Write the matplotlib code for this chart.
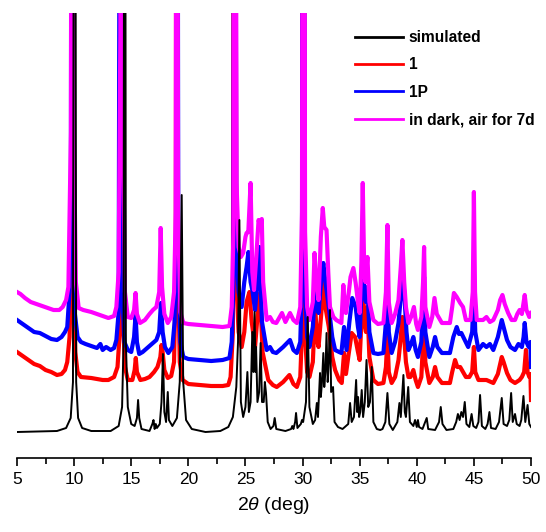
import numpy as np
import matplotlib
matplotlib.use("Agg")
import matplotlib.pyplot as plt
from matplotlib.ticker import MultipleLocator

plt.rcParams['font.family'] = ['Liberation Sans', 'DejaVu Sans']
plt.rcParams['mathtext.fontset'] = 'custom'
plt.rcParams['mathtext.it'] = 'Liberation Sans:italic'
plt.rcParams['mathtext.rm'] = 'Liberation Sans'

# PXRD patterns, 2theta (deg) vs intensity (a.u.)
# peaks that leave the frame are given a large value and get clipped
simulated = [
    (5.0, 0), (8.5, 1), (9.3, 4), (9.7, 14), (9.9, 50), (10.05, 1200), (10.18, 50), (10.35, 14),
    (10.7, 4), (11.5, 1), (13.2, 1), (13.9, 6), (14.2, 25), (14.33, 90), (14.43, 1200),
    (14.53, 90), (14.7, 25), (15.0, 8), (15.3, 6), (15.5, 14), (15.6, 32), (15.7, 14), (15.9, 3),
    (16.6, 1), (16.85, 8), (16.95, 12), (17.05, 3), (17.15, 8), (17.25, 4), (17.5, 8),
    (17.65, 30), (17.78, 78), (17.9, 20), (18.05, 10), (18.2, 40), (18.3, 12), (18.6, 6),
    (19.0, 14), (19.25, 50), (19.42, 237), (19.55, 50), (19.8, 12), (20.3, 3), (21.5, 0),
    (22.8, 1), (23.5, 5), (23.9, 15), (24.2, 45), (24.35, 90), (24.47, 212), (24.6, 30),
    (24.8, 15), (25.0, 25), (25.17, 60), (25.3, 20), (25.45, 30), (25.6, 100), (25.7, 60),
    (25.8, 120), (25.88, 60), (25.93, 85), (26.05, 30), (26.2, 40), (26.33, 89), (26.45, 30),
    (26.6, 30), (26.7, 50), (26.8, 39), (26.95, 10), (27.2, 3), (27.45, 6), (27.56, 14),
    (27.7, 3), (28.5, 1), (29.0, 3), (29.1, 6), (29.2, 3), (29.35, 10), (29.43, 19), (29.55, 4),
    (29.85, 8), (29.95, 12), (30.05, 10), (30.3, 30), (30.45, 115), (30.6, 25), (30.9, 8),
    (31.1, 12), (31.25, 29), (31.35, 15), (31.45, 40), (31.53, 59), (31.6, 35), (31.7, 50),
    (31.82, 79), (31.9, 45), (32.0, 60), (32.1, 99), (32.2, 50), (32.3, 70), (32.4, 122),
    (32.5, 40), (32.67, 45), (32.8, 10), (33.1, 5), (33.5, 3), (34.0, 8), (34.16, 29),
    (34.3, 10), (34.5, 15), (34.69, 52), (34.78, 20), (34.86, 35), (34.95, 15), (35.05, 20),
    (35.18, 42), (35.3, 15), (35.45, 30), (35.6, 72), (35.75, 25), (35.9, 30), (36.06, 65),
    (36.2, 10), (36.5, 3), (36.8, 2), (37.0, 3), (37.25, 10), (37.43, 39), (37.6, 8), (37.9, 2),
    (38.3, 10), (38.48, 29), (38.6, 15), (38.83, 57), (38.95, 20), (39.05, 15), (39.25, 45),
    (39.4, 10), (39.7, 6), (39.85, 12), (40.0, 5), (40.1, 12), (40.2, 5), (40.5, 3),
    (40.87, 14), (41.0, 3), (41.6, 2), (41.95, 10), (42.1, 25), (42.25, 8), (42.6, 2),
    (43.2, 3), (43.45, 10), (43.6, 18), (43.75, 12), (43.9, 20), (44.05, 15), (44.2, 30),
    (44.35, 8), (44.6, 5), (44.8, 18), (44.95, 6), (45.2, 4), (45.4, 10), (45.54, 37),
    (45.7, 6), (46.0, 3), (46.2, 8), (46.36, 20), (46.5, 4), (46.9, 3), (47.2, 10), (47.44, 34),
    (47.6, 8), (47.9, 6), (48.1, 12), (48.26, 39), (48.4, 10), (48.6, 18), (48.75, 8),
    (49.0, 6), (49.15, 12), (49.34, 36), (49.5, 10), (49.7, 27), (49.85, 8), (50.0, 5),
]

sample_1 = [
    (5.0, 80), (5.5, 76), (6.0, 72), (6.5, 68), (7.0, 66), (7.5, 62), (8.0, 60), (8.5, 57),
    (8.9, 58), (9.2, 62), (9.4, 70), (9.6, 95), (9.75, 160), (9.85, 1200), (9.98, 160),
    (10.1, 80), (10.3, 60), (10.6, 55), (11.5, 54), (12.5, 52), (13.0, 52), (13.5, 55),
    (13.8, 65), (14.0, 100), (14.15, 1200), (14.3, 110), (14.45, 65), (14.7, 52), (15.1, 52),
    (15.3, 62), (15.4, 74), (15.5, 60), (15.8, 52), (16.2, 53), (16.6, 55), (17.0, 60),
    (17.3, 65), (17.55, 75), (17.65, 87), (17.75, 80), (17.9, 62), (18.2, 54), (18.5, 56),
    (18.75, 70), (18.9, 160), (18.98, 1200), (19.1, 160), (19.25, 70), (19.5, 52), (20.0, 48),
    (21.0, 47), (22.0, 46), (23.0, 46), (23.5, 47), (23.7, 55), (23.9, 100), (24.05, 1200),
    (24.2, 150), (24.4, 100), (24.67, 85), (24.9, 100), (25.1, 130), (25.35, 140),
    (25.55, 110), (25.84, 85), (26.05, 115), (26.28, 139), (26.5, 80), (27.0, 52), (27.4, 47),
    (27.74, 45), (28.3, 50), (28.85, 57), (29.2, 48), (29.5, 45), (29.8, 55), (29.95, 100),
    (30.05, 1200), (30.2, 100), (30.4, 60), (30.6, 55), (30.9, 70), (31.1, 124), (31.3, 90),
    (31.4, 85), (31.65, 120), (31.82, 149), (32.0, 125), (32.3, 105), (32.6, 75), (32.85, 62),
    (33.2, 52), (33.43, 49), (33.63, 79), (33.8, 58), (34.0, 75), (34.3, 99), (34.6, 95),
    (34.85, 80), (35.0, 72), (35.15, 110), (35.27, 155), (35.4, 110), (35.55, 100),
    (35.68, 125), (35.85, 75), (36.2, 52), (36.6, 48), (37.08, 49), (37.3, 65), (37.43, 95),
    (37.55, 60), (37.8, 49), (38.1, 55), (38.4, 72), (38.6, 95), (38.74, 115), (38.9, 95),
    (39.05, 70), (39.27, 55), (39.45, 55), (39.7, 62), (39.9, 52), (40.1, 45), (40.4, 55),
    (40.55, 90), (40.64, 114), (40.75, 70), (41.1, 49), (41.4, 55), (41.6, 65), (41.8, 55),
    (42.2, 49), (42.9, 49), (43.1, 60), (43.35, 72), (43.55, 65), (43.8, 65), (44.05, 60),
    (44.3, 55), (44.6, 55), (44.85, 60), (45.0, 85), (45.12, 60), (45.4, 52), (46.1, 52),
    (46.7, 49), (47.1, 58), (47.44, 75), (47.6, 70), (47.9, 59), (48.2, 52), (48.6, 49),
    (49.0, 52), (49.2, 55), (49.4, 60), (49.56, 82), (49.7, 60), (49.85, 55), (49.95, 58),
    (50.0, 32),
]

sample_1p = [
    (5.0, 112), (5.5, 108), (6.0, 104), (6.5, 100), (7.0, 99), (7.5, 96), (8.0, 93), (8.5, 92),
    (8.9, 95), (9.2, 100), (9.4, 105), (9.6, 140), (9.72, 250), (9.8, 1200), (9.9, 250),
    (10.05, 120), (10.3, 95), (10.6, 90), (11.0, 88), (11.5, 86), (12.0, 84), (12.3, 88),
    (12.5, 82), (12.8, 85), (13.2, 82), (13.5, 84), (13.7, 92), (13.9, 120), (14.1, 1200),
    (14.25, 130), (14.4, 90), (14.7, 82), (15.0, 80), (15.25, 95), (15.38, 117), (15.5, 90),
    (15.7, 78), (16.0, 80), (16.5, 85), (16.9, 89), (17.2, 92), (17.45, 100), (17.6, 129),
    (17.75, 100), (17.95, 85), (18.25, 79), (18.6, 85), (18.8, 110), (18.92, 200), (19.0, 1200),
    (19.12, 180), (19.3, 90), (19.56, 75), (20.0, 73), (21.0, 72), (22.0, 71), (23.0, 72),
    (23.6, 74), (23.8, 90), (23.95, 150), (24.05, 1200), (24.2, 180), (24.4, 140),
    (24.67, 125), (24.9, 150), (25.1, 165), (25.26, 180), (25.45, 150), (25.6, 142),
    (25.84, 122), (26.05, 150), (26.22, 185), (26.45, 110), (26.86, 82), (27.15, 85),
    (27.4, 80), (27.7, 79), (28.3, 85), (28.9, 92), (29.2, 82), (29.5, 79), (29.8, 90),
    (29.95, 150), (30.05, 1200), (30.2, 150), (30.4, 95), (30.6, 85), (30.9, 105), (31.1, 142),
    (31.3, 125), (31.4, 119), (31.65, 155), (31.82, 169), (32.0, 150), (32.3, 125), (32.6, 95),
    (32.85, 82), (33.2, 80), (33.4, 79), (33.63, 105), (33.85, 82), (34.1, 110), (34.35, 134),
    (34.65, 125), (34.85, 105), (35.0, 95), (35.15, 140), (35.27, 182), (35.42, 135),
    (35.55, 130), (35.68, 145), (35.85, 100), (36.2, 79), (36.6, 78), (37.08, 79), (37.3, 110),
    (37.43, 165), (37.55, 100), (37.8, 79), (38.1, 90), (38.4, 109), (38.6, 135), (38.78, 160),
    (38.95, 130), (39.1, 100), (39.27, 82), (39.5, 88), (39.7, 95), (39.9, 82), (40.1, 75),
    (40.4, 90), (40.55, 130), (40.64, 155), (40.75, 100), (41.1, 75), (41.4, 85), (41.6, 95),
    (41.8, 85), (42.2, 79), (42.9, 79), (43.2, 95), (43.5, 105), (43.7, 98), (43.9, 99),
    (44.2, 92), (44.5, 85), (44.85, 100), (45.0, 145), (45.12, 100), (45.4, 82), (45.8, 88),
    (46.1, 85), (46.4, 88), (46.7, 82), (47.1, 95), (47.44, 112), (47.6, 105), (47.9, 92),
    (48.2, 85), (48.6, 82), (48.9, 88), (49.2, 85), (49.35, 95), (49.45, 109), (49.6, 90),
    (49.8, 85), (49.95, 90), (50.0, 65),
]

dark_air_7d = [
    (5.0, 140), (5.3, 138), (5.7, 134), (6.2, 130), (6.7, 128), (7.2, 126), (7.7, 124),
    (8.2, 122), (8.7, 122), (9.0, 125), (9.3, 132), (9.5, 145), (9.72, 300), (9.85, 1200),
    (9.98, 300), (10.15, 150), (10.4, 124), (10.8, 122), (11.5, 120), (12.0, 118), (12.5, 116),
    (13.0, 114), (13.5, 116), (13.7, 125), (13.9, 160), (14.05, 400), (14.15, 1200),
    (14.28, 300), (14.45, 140), (14.7, 115), (15.0, 114), (15.25, 122), (15.38, 139),
    (15.5, 118), (15.77, 109), (16.2, 112), (16.6, 118), (16.9, 122), (17.2, 125), (17.45, 140),
    (17.58, 204), (17.7, 145), (17.9, 118), (18.2, 109), (18.5, 115), (18.75, 140), (18.9, 220),
    (19.0, 1200), (19.1, 220), (19.3, 120), (19.56, 109), (20.0, 108), (21.0, 107), (22.0, 106),
    (23.0, 105), (23.6, 106), (23.8, 125), (23.95, 200), (24.08, 1200), (24.22, 250),
    (24.4, 185), (24.6, 175), (24.8, 179), (25.0, 195), (25.1, 199), (25.25, 200),
    (25.45, 249), (25.6, 160), (25.75, 142), (25.95, 175), (26.15, 212), (26.3, 205),
    (26.43, 213), (26.55, 150), (26.86, 112), (27.15, 115), (27.4, 110), (27.7, 109),
    (28.2, 119), (28.5, 110), (28.9, 119), (29.2, 112), (29.5, 109), (29.8, 125), (29.95, 220),
    (30.08, 1200), (30.22, 200), (30.4, 125), (30.6, 112), (30.9, 130), (31.05, 179),
    (31.2, 150), (31.4, 132), (31.6, 195), (31.77, 224), (31.9, 205), (32.1, 202), (32.25, 160),
    (32.4, 125), (32.7, 115), (32.95, 112), (33.4, 109), (33.57, 147), (33.7, 125), (33.8, 119),
    (34.05, 140), (34.2, 155), (34.45, 164), (34.65, 149), (34.85, 130), (35.0, 119),
    (35.15, 170), (35.27, 249), (35.4, 160), (35.5, 150), (35.68, 175), (35.85, 130),
    (36.2, 112), (36.6, 108), (37.08, 109), (37.3, 140), (37.43, 207), (37.55, 130),
    (37.8, 109), (38.1, 118), (38.4, 132), (38.6, 165), (38.74, 192), (38.9, 150), (39.05, 125),
    (39.27, 109), (39.5, 115), (39.75, 125), (39.95, 108), (40.1, 102), (40.4, 115),
    (40.55, 150), (40.64, 185), (40.75, 125), (41.1, 105), (41.35, 115), (41.55, 134),
    (41.75, 118), (42.2, 109), (42.9, 109), (43.1, 125), (43.25, 139), (43.5, 135),
    (43.8, 129), (44.05, 125), (44.3, 112), (44.7, 112), (44.9, 140), (45.0, 240), (45.1, 140),
    (45.25, 112), (45.8, 112), (46.1, 115), (46.4, 110), (46.7, 112), (47.1, 122), (47.3, 132),
    (47.5, 137), (47.7, 128), (48.0, 119), (48.3, 112), (48.6, 112), (48.8, 118), (49.0, 122),
    (49.2, 118), (49.45, 137), (49.6, 122), (49.85, 115), (50.0, 119),
]

series = [
    ("simulated", simulated, "#000000", 1.4, 5),
    ("1", sample_1, "#FF0000", 3.0, 2),
    ("1P", sample_1p, "#0000FF", 3.0, 3),
    ("in dark, air for 7d", dark_air_7d, "#FF00FF", 3.0, 4),
]

fig = plt.figure(figsize=(5.46, 5.32), dpi=100)
ax = fig.add_axes([17 / 546, 1 - 458 / 532, 514 / 546, 445 / 532])

for label, pts, col, lw, z in series:
    arr = np.array(pts, dtype=float)
    ax.plot(arr[:, 0], arr[:, 1], color=col, lw=lw, label=label, zorder=z)

ax.set_xlim(5, 50)
ax.set_ylim(-26, 419)
ax.xaxis.set_major_locator(MultipleLocator(5))
ax.xaxis.set_minor_locator(MultipleLocator(2.5))
ax.tick_params(axis='x', which='major', length=6, width=1.2, labelsize=12.5, pad=4)
ax.tick_params(axis='x', which='minor', length=4, width=1.2)
ax.set_yticks([])
for s in ['left', 'right', 'top']:
    ax.spines[s].set_visible(False)
ax.spines['bottom'].set_linewidth(1.2)
ax.set_xlabel(r"2$\it{\theta}$ (deg)", fontsize=14, labelpad=6)

leg = ax.legend(loc='upper left', bbox_to_anchor=(355 / 546, 1 - 30 / 532),
                bbox_transform=fig.transFigure, frameon=False, borderpad=0,
                borderaxespad=0, handlelength=3.1, handletextpad=0.35,
                labelspacing=0.8, prop={'weight': 'bold', 'size': 11.2})
for line in leg.get_lines():
    line.set_linewidth(2.0)

fig.savefig("out.png", dpi=100)
